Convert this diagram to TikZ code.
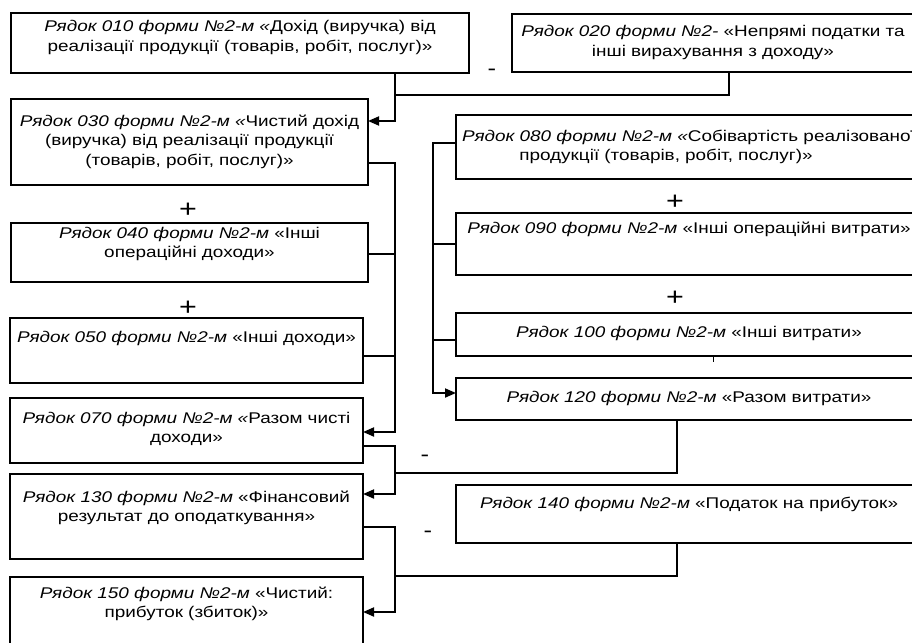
\documentclass[tikz,border=0pt]{standalone}
\usepackage{fontspec}
\setmainfont[FakeStretch=1.22]{Liberation Sans}
\usetikzlibrary{arrows.meta}

\begin{document}
\begin{tikzpicture}[x=1pt, y=-1pt, line width=1.8pt,
		rowbox/.style={draw, inner sep=0pt, outer sep=0pt, anchor=north west, align=center, font=\fontsize{15.5}{19.5}\selectfont},
		sign/.style={inner sep=0pt, font=\fontsize{21}{21}\selectfont},
		bigsign/.style={inner sep=0pt, font=\fontsize{25}{25}\selectfont},
		tip/.style={-{Triangle[length=11pt,width=9pt]}}]
%		\draw[help lines] (0,0) grid[step=50] (912,642);
		\useasboundingbox (0,0) rectangle (912,642);
		% left column
		\node[rowbox, text width=458pt, text height=19pt, text depth=41pt] (r010) at (11,13) {\textit{Рядок 010 форми №2-м «}Дохід (виручка) від\\ реалізації продукції (товарів, робіт, послуг)»};
		\node[rowbox, text width=357pt, text height=27pt, text depth=59pt] (r030) at (11,99) {\textit{Рядок 030 форми №2-м «}Чистий дохід\\ (виручка) від реалізації продукції\\ (товарів, робіт, послуг)»};
		\node[rowbox, text width=357pt, text height=15pt, text depth=44pt] (r040) at (11,223) {\textit{Рядок 040 форми №2-м} «Інші\\ операційні доходи»};
		\node[rowbox, text width=353pt, text height=24pt, text depth=41pt] (r050) at (10,318) {\textit{Рядок 050 форми №2-м} «Інші доходи»};
		\node[rowbox, text width=353pt, text height=25pt, text depth=40pt] (r070) at (10,398) {\textit{Рядок 070 форми №2-м «}Разом чисті\\ доходи»};
		\node[rowbox, text width=353pt, text height=28pt, text depth=57pt] (r130) at (10,474) {\textit{Рядок 130 форми №2-м} «Фінансовий\\ результат до оподаткування»};
		\node[rowbox, text width=353pt, text height=21pt, text depth=52pt] (r150) at (10,577) {\textit{Рядок 150 форми №2-м} «Чистий:\\ прибуток (збиток)»};
		% right column
		\node[rowbox, text width=402pt, text height=23pt, text depth=35pt] (r020) at (512,14) {\textit{Рядок 020 форми №2-} «Непрямі податки та\\ інші вирахування з доходу»};
		\node[rowbox, text width=466pt, text height=26pt, text depth=38pt] (r080) at (456,115) {\textit{Рядок 080 форми №2-м «}Собівартість реалізованої\\ \hspace*{-46pt}продукції (товарів, робіт, послуг)»};
		\node[rowbox, text width=466pt, text height=20pt, text depth=42pt] (r090) at (456,213) {\textit{Рядок 090 форми №2-м} «Інші операційні витрати»};
		\node[rowbox, text width=466pt, text height=24pt, text depth=19pt] (r100) at (456,313) {\textit{Рядок 100 форми №2-м} «Інші витрати»};
		\node[rowbox, text width=466pt, text height=24pt, text depth=18pt] (r120) at (456,378) {\textit{Рядок 120 форми №2-м} «Разом витрати»};
		\node[rowbox, text width=466pt, text height=23pt, text depth=35pt] (r140) at (456,485) {\textit{Рядок 140 форми №2-м} «Податок на прибуток»};
		% signs
		\node[sign] (m1) at (492,72) {-};
		\node[bigsign] (p1) at (188,210) {+};
		\node[bigsign] (p2) at (188,308) {+};
		\node[bigsign] (p3) at (675,202) {+};
		\node[bigsign] (p4) at (675,298) {+};
		\node[sign] (m2) at (425,458) {-};
		\node[sign] (m3) at (428,534) {-};
		% junctions
		\coordinate (a1) at (395,121);
		\coordinate (a2) at (729,95);
		\coordinate (b1) at (395,163);
		\coordinate (b2) at (395,254);
		\coordinate (b3) at (395,356);
		\coordinate (b4) at (395,432);
		\coordinate (c1) at (395,446);
		\coordinate (c2) at (677,473);
		\coordinate (c3) at (395,494);
		\coordinate (d1) at (395,527);
		\coordinate (d2) at (677,576);
		\coordinate (d3) at (395,612);
		\coordinate (e1) at (433,143);
		\coordinate (e2) at (433,244);
		\coordinate (e3) at (433,340);
		\coordinate (e4) at (433,393);
		\coordinate (tk) at (713,362);
		% connectors
		\draw[tip] (r010.south -| a1) -- (a1) -- (a1 -| r030.east);
		\draw (r020.south -| a2) -- (a2) -- (a2 -| a1);
		\draw[tip] (b1 -| r030.east) -- (b1) -- (b4) -- (b4 -| r070.east);
		\draw (b2 -| r040.east) -- (b2);
		\draw (b3 -| r050.east) -- (b3);
		\draw[tip] (c1 -| r070.east) -- (c1) -- (c3) -- (c3 -| r130.east);
		\draw (r120.south -| c2) -- (c2) -- (c2 -| c1);
		\draw[tip] (d1 -| r130.east) -- (d1) -- (d3) -- (d3 -| r150.east);
		\draw (r140.south -| d2) -- (d2) -- (d2 -| d1);
		\draw[tip] (e1 -| r080.west) -- (e1) -- (e4) -- (e4 -| r120.west);
		\draw (e2 -| r090.west) -- (e2);
		\draw (e3 -| r100.west) -- (e3);
		\draw[line width=1pt] (r100.south -| tk) -- (tk);
	\end{tikzpicture}
\end{document}
